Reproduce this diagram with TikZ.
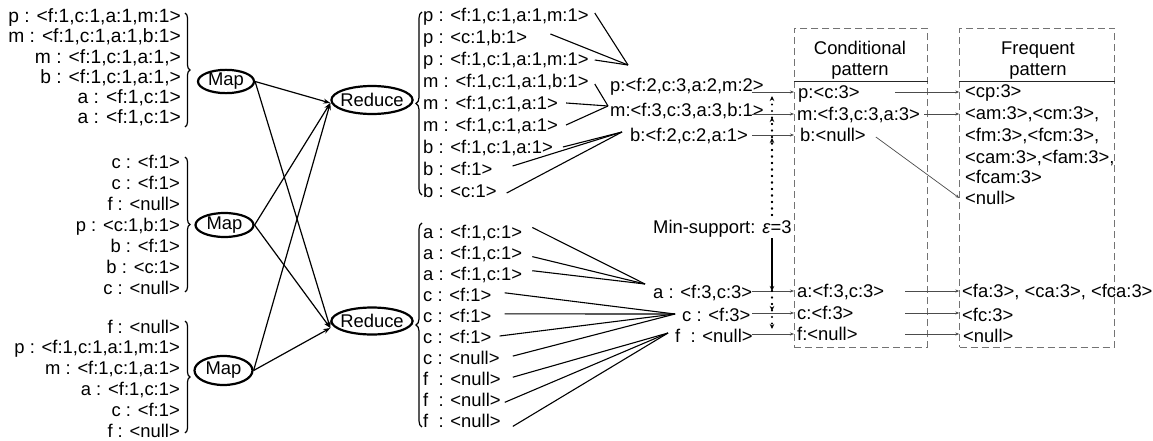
\documentclass[tikz,border=0pt]{standalone}
\usepackage{fontspec}
\setmainfont{Liberation Sans}
\usetikzlibrary{shapes.geometric,arrows.meta,decorations.pathreplacing}
\tikzset{
  txt/.style={font=\fontsize{18.4}{21}\selectfont, inner sep=0pt, text height=13pt, text depth=0pt},
  bigtxt/.style={txt, font=\fontsize{19.2}{21}\selectfont},
  oval/.style={ellipse, draw, line width=2.2pt, inner sep=0pt, font=\fontsize{18.4}{21}\selectfont},
  feed/.style={line width=1.2pt, -{Stealth[length=7pt,width=5pt]}},
  link/.style={line width=1.1pt},
  rbrace/.style={decorate, decoration={brace, amplitude=5pt}, line width=1.2pt},
  lbrace/.style={decorate, decoration={brace, amplitude=6pt}, line width=1.2pt},
  cell/.style={txt, inner xsep=4pt},
  pass/.style={draw=black!70, line width=0.7pt, -{Stealth[length=4pt,width=3pt]}},
  dashbox/.style={draw=black!55, line width=0.8pt, dash pattern=on 7pt off 4pt, inner sep=0pt},
  headrule/.style={line width=1.3pt, draw=black!85},
  dotline/.style={line width=2.1pt, line cap=round, dash pattern=on 0pt off 6.5pt},
  thr/.style={-{Stealth[length=5pt,width=4.5pt]}},
}
\begin{document}
\begin{tikzpicture}[x=1pt,y=-1pt]
\useasboundingbox[fill=white] (0,0) rectangle (1153,441);

% ---- mapper input splits ----
\foreach \t [count=\i from 0] in {{p : <f:1,c:1,a:1,m:1>},{m : <f:1,c:1,a:1,b:1>},{m : <f:1,c:1,a:1,>},{b : <f:1,c:1,a:1,>},{a : <f:1,c:1>},{a : <f:1,c:1>}}{
  \pgfmathsetmacro\yy{16+20.3*\i}
  \node[bigtxt, anchor=east] (inA\i) at (181,\yy) {\t};
}
\foreach \t [count=\i from 0] in {{c : <f:1>},{c : <f:1>},{f : <null>},{p : <c:1,b:1>},{b : <f:1>},{b : <c:1>},{c : <null>}}{
  \pgfmathsetmacro\yy{161.5+21*\i}
  \node[txt, anchor=east] (inB\i) at (180,\yy) {\t};
}
\foreach \t [count=\i from 0] in {{f : <null>},{p : <f:1,c:1,a:1,m:1>},{m : <f:1,c:1,a:1>},{a : <f:1,c:1>},{c : <f:1>},{f : <null>}}{
  \pgfmathsetmacro\yy{326.5+20.8*\i}
  \node[txt, anchor=east] (inC\i) at (180,\yy) {\t};
}
\draw[rbrace] (185,13) -- (185,127);
\draw[rbrace] (185,157) -- (185,292);
\draw[rbrace] (185,321) -- (185,433);

% ---- map and reduce tasks ----
\node[oval, minimum width=56pt, minimum height=22pt] (map1) at (226,81.5) {Map};
\node[oval, minimum width=58pt, minimum height=24pt] (map2) at (224.5,225) {Map};
\node[oval, minimum width=58pt, minimum height=29pt] (map3) at (223.5,370.5) {Map};
\node[oval, inner xsep=-3pt, minimum width=81pt, minimum height=28pt] (red1) at (372,100) {Reduce};
\node[oval, inner xsep=-3pt, minimum width=81pt, minimum height=27pt] (red2) at (372,321) {Reduce};

\foreach \m in {map1,map2,map3}{
  \draw[feed] (\m.east) -- ([yshift=-3pt]red1.west);
  \draw[feed] (\m.east) -- ([yshift=-7pt]red2.west);
}

% ---- reducer inputs ----
\draw[lbrace] (422,195) -- (422,12);
\draw[lbrace] (422,427) -- (422,223);

\coordinate (pA) at (628,65);
\coordinate (mA) at (608,106);
\coordinate (bA) at (622,132);
\coordinate (aB) at (645,284);
\coordinate (cB) at (675,314);
\coordinate (fB) at (668,333);

\foreach \t/\g/\d/\tg [count=\i from 0] in {
  {p : <f:1,c:1,a:1,m:1>}/6/-2/pA,
  {p : <c:1,b:1>}/23/-3/pA,
  {p : <f:1,c:1,a:1,m:1>}/6/1/pA,
  {m : <f:1,c:1,a:1,b:1>}/6/3/mA,
  {m : <f:1,c:1,a:1>}/8/0/mA,
  {m : <f:1,c:1,a:1>}/8/0/mA,
  {b : <f:1,c:1,a:1>}/10/0/bA,
  {b : <f:1>}/20/-3/bA,
  {b : <c:1>}/10/2/bA}{
  \pgfmathsetmacro\yy{15+22*\i}
  \node[txt, anchor=west] (rA\i) at (423,\yy) {\t};
  \draw[link] ([shift={(\g,\d)}]rA\i.east) -- (\tg);
}
\foreach \t/\g/\d/\tg [count=\i from 0] in {
  {a : <f:1,c:1>}/10/-4/aB,
  {a : <f:1,c:1>}/10/4/aB,
  {a : <f:1,c:1>}/10/-3/aB,
  {c : <f:1>}/13/-2/cB,
  {c : <f:1>}/13/-2/cB,
  {c : <f:1>}/8/-1/cB,
  {c : <null>}/13/-2/cB,
  {f~~: <null>}/12/-2/fB,
  {f~~: <null>}/4/2/fB,
  {f~~: <null>}/12/5/fB}{
  \pgfmathsetmacro\yy{231.5+21.1*\i}
  \node[txt, anchor=west] (rB\i) at (423,\yy) {\t};
  \draw[link] ([shift={(\g,\d)}]rB\i.east) -- (\tg);
}

% ---- aggregated results ----
\node[txt, anchor=west] (resP) at (610,85) {p:<f:2,c:3,a:2,m:2>};
\node[txt, anchor=west] (resM) at (610,110) {m:<f:3,c:3,a:3,b:1>};
\node[txt, anchor=west] (resB) at (630,135) {b:<f:2,c:2,a:1>};
\node[txt, anchor=west] (resA) at (653,292) {a : <f:3,c:3>};
\node[txt, anchor=west] (resC) at (682,315) {c : <f:3>};
\node[txt, anchor=west] (resF) at (675,336) {f~~: <null>};

% ---- pattern tables ----
\node[dashbox, anchor=north west, minimum width=133pt, minimum height=319pt] (cbox) at (794,27.7) {};
\node[dashbox, anchor=north west, minimum width=155pt, minimum height=319pt] (fbox) at (959.3,27.7) {};
\coordinate (hy) at (0,81.7);
\draw[headrule] (cbox.west |- hy) -- (cbox.east |- hy);
\draw[headrule] (fbox.west |- hy) -- (fbox.east |- hy);
\node[txt] (cHead1) at (860,48.3) {Conditional};
\node[txt] (cHead2) at (860,69.3) {pattern};
\node[txt] (fHead1) at (1038,48.3) {Frequent};
\node[txt] (fHead2) at (1038,69.3) {pattern};

\node[cell, anchor=west] (condP) at (794,92) {p:<c:3>};
\node[cell, anchor=west] (condM) at (793,114) {m:<f:3,c:3,a:3>};
\node[cell, anchor=west] (condB) at (796,135) {b:<null>};
\node[cell, anchor=west] (condA) at (793,291) {a:<f:3,c:3>};
\node[cell, anchor=west] (condC) at (793,313) {c:<f:3>};
\node[cell, anchor=west] (condF) at (793,334) {f:<null>};

\node[cell, anchor=west] (fP) at (961,91.5) {<cp:3>};
\node[cell, anchor=west] (fM1) at (961,113) {<am:3>,<cm:3>,};
\node[cell, anchor=west] (fM2) at (961,135) {<fm:3>,<fcm:3>,};
\node[cell, anchor=west] (fM3) at (961,156.5) {<cam:3>,<fam:3>,};
\node[cell, anchor=west] (fM4) at (961,177) {<fcam:3>};
\node[cell, anchor=west] (fN) at (961,198) {<null>};
\node[cell, anchor=west] (fA) at (958,291) {<fa:3>, <ca:3>, <fca:3>};
\node[cell, anchor=west] (fC) at (958,315) {<fc:3>};
\node[cell, anchor=west] (fF) at (959,335.5) {<null>};

% results into the conditional table
\coordinate (xr) at (752,0);
\foreach \c in {condP,condM,condB,condA,condC,condF}{
  \draw[pass] (\c.west -| xr) -- (\c.west -| cbox.west);
}
% conditional table into the frequent table
\coordinate (xp) at (895,0);
\coordinate (xl) at (905,0);
\draw[pass] (condP.west -| xp) -- (condP.west -| fbox.west);
\draw[pass] (condM.east) -- (condM.east -| fbox.west);
\draw[pass] ([shift={(6,2)}]condB.east) -- (fN.west -| fbox.west);
\draw[pass] (condA.west -| xl) -- (condA.west -| fbox.west);
\draw[pass] (condC.west -| xl) -- (condC.west -| fbox.west);
\draw[pass] (condF.west -| xl) -- (condF.west -| fbox.west);

% ---- minimum support threshold ----
\node[txt, anchor=west] (ms) at (653,226.7) {Min-support: \textit{ε}=3};
\coordinate (xv) at (772,0);
\draw[dotline, thr] ([yshift=5pt]ms.north -| xv) -- ([yshift=-4pt]condP.west -| xv);
\draw[dotline, thr] ([yshift=5pt]ms.north -| xv) -- ([yshift=-3pt]condM.west -| xv);
\draw[dotline, thr] ([yshift=5pt]ms.north -| xv) -- ([yshift=-3pt]condB.west -| xv);
\draw[line width=1.2pt, thr] ([yshift=-5pt]ms.south -| xv) -- (condA.west -| xv);
\draw[dotline, thr] (condA.west -| xv) -- ([yshift=2pt]condC.west -| xv);
\draw[dotline, thr] (condA.west -| xv) -- ([yshift=5pt]condF.west -| xv);
\end{tikzpicture}
\end{document}
